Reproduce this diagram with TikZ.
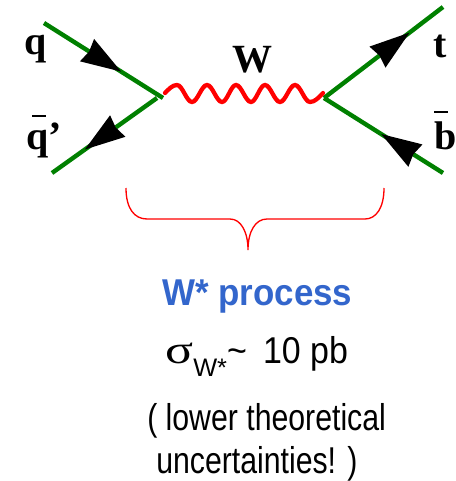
\documentclass[tikz,border=0pt]{standalone}
\usepackage{fontspec}
\setmainfont{Liberation Serif}
\setsansfont{Liberation Sans}
\newfontfamily\narrowsans[FakeStretch=0.81]{Liberation Sans}
\newfontfamily\crosssans[FakeStretch=0.91]{Liberation Sans}
\newfontfamily\titlesans[FakeStretch=0.935]{Liberation Sans}
\usetikzlibrary{arrows.meta,decorations.markings}
\definecolor{fermion}{RGB}{0,128,0}
\definecolor{wblue}{RGB}{51,102,204}
\newcommand{\barred}[3]{\rlap{\hspace{#1}\raisebox{#2}{\rule{10pt}{1.5pt}}}#3}
\tikzset{
  fermion/.style={draw=fermion,line width=3.3pt},
  headat/.style={postaction={decorate,decoration={markings,
    mark=at position #1 with {\arrow[black]{Stealth[length=30pt,width=19pt,inset=1.5pt]}}}}},
  wboson/.style={draw=red,line width=3.2pt,line cap=round},
  brace/.style={draw=red,line width=1pt},
  plabel/.style={inner sep=0pt,anchor=base west,font=\bfseries\fontsize{30}{30}\selectfont},
  caption/.style={inner sep=0pt,anchor=base west,font=\fontsize{28}{28}\selectfont}
}
\begin{document}
\begin{tikzpicture}[x=0.75pt,y=-0.75pt]
        \useasboundingbox (0,0) rectangle (456,481);

        \coordinate (qin) at (44,23);
        \coordinate (qbarin) at (52,173);
        \coordinate (vl) at (163,98);
        \coordinate (vlbar) at (157,98);
        \coordinate (vr) at (324,98);
        \coordinate (tout) at (443,7);
        \coordinate (bout) at (443,173);
        \coordinate (wl) at (165,93);
        \coordinate (wr) at (323,93);

        % quark lines
        \draw[fermion,headat=0.65] (qin) -- (vl);
        \draw[fermion,headat=0.69] (vlbar) -- (qbarin);
        \draw[fermion,headat=0.72] (vr) -- (tout);
        \draw[fermion,headat=0.52] (bout) -- (vr);

        % W line
        \draw[wboson] (wl) sin (177,85) cos (184.5,93.5) sin (192,102) cos (199.5,93.5)
            sin (207,85) cos (214.5,93.5) sin (222,102) cos (229,93.5)
            sin (236,85) cos (243.5,93.5) sin (251,102) cos (258,93.5)
            sin (265,85) cos (272.5,93.5) sin (280,102) cos (287.5,93.5)
            sin (295,85) cos (302.5,93.5) sin (310,102) cos (wr);

        % brace
        \coordinate (bl) at (126,188);
        \coordinate (br) at (384,188);
        \coordinate (btip) at (248,250);
        \draw[brace] (bl) .. controls (126,208) and (134,219) .. (147,219) -- (230,219)
            .. controls (241,219) and (248,232) .. (btip)
            .. controls (248,232) and (255,219) .. (267,219) -- (365,219)
            .. controls (376,219) and (384,208) .. (br);

        \node[plabel] (qlabel) at (24,55) {q};
        \node[plabel] (qbarlabel) at (26,149) {\barred{4.5pt}{24pt}{q}’};
        \node[plabel] (wlabel) at (232,73) {W};
        \node[plabel] (tlabel) at (433,58) {t};
        \node[plabel] (blabel) at (434,150) {\barred{0pt}{27.5pt}{b}};

        \node[caption,text=wblue] (process) at (162,305) {\titlesans\bfseries W* process};
        \node[caption] (sigma) at (165,363) {\scalebox{1.3}[1]{\rmfamily\fontsize{30}{30}\selectfont σ}\raisebox{-10pt}{\sffamily\fontsize{19}{19}\selectfont W*}{\crosssans\textasciitilde{}\hspace{5pt} 10 pb}};
        \node[caption] (lower) at (147,430) {\narrowsans ( lower theoretical};
        \node[caption] (uncert) at (156,473) {\narrowsans uncertainties! )};
\end{tikzpicture}
\end{document}
